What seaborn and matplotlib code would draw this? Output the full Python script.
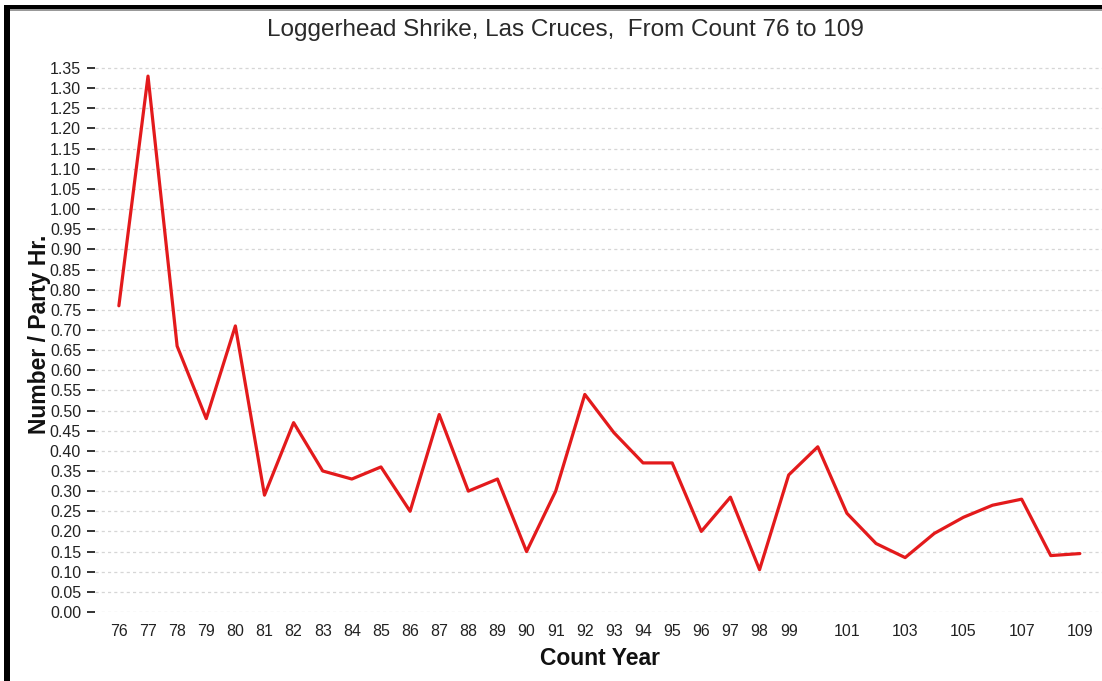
import matplotlib
matplotlib.use("Agg")
import matplotlib.pyplot as plt
from matplotlib.patches import Rectangle
import seaborn as sns
import pandas as pd

years = list(range(76, 110))
values = [0.76, 1.33, 0.66, 0.48, 0.71, 0.29, 0.47, 0.35, 0.33, 0.36,
          0.25, 0.49, 0.30, 0.33, 0.15, 0.30, 0.54, 0.445, 0.37, 0.37,
          0.20, 0.285, 0.105, 0.34, 0.41, 0.245, 0.17, 0.135, 0.195, 0.235,
          0.265, 0.28, 0.14, 0.145]
xtick_years = list(range(76, 100)) + [101, 103, 105, 107, 109]
ytick_values = [i * 0.05 for i in range(28)]

title = "Loggerhead Shrike, Las Cruces,  From Count 76 to 109"
xlabel = "Count Year"
ylabel = "Number / Party Hr."

sns.set_style("white")
plt.rcParams['font.family'] = ['Liberation Sans', 'DejaVu Sans']

W, H = 1102, 681
fig = plt.figure(figsize=(W / 100, H / 100), dpi=100)
fig.patch.set_facecolor("white")

# axes placement in pixels
left_px, right_px, top_px, bottom_px = 95, 1102, 62, 612
ax = fig.add_axes([left_px / W, (H - bottom_px) / H,
                   (right_px - left_px) / W, (bottom_px - top_px) / H])

df = pd.DataFrame({"year": years, "value": values})
sns.lineplot(data=df, x="year", y="value", ax=ax, color="#e31a1c",
             linewidth=2.3, legend=False)

ax.set_xlim(75.18, 109.76)
ax.set_ylim(0, 1.365)
ax.set_yticks(ytick_values)
ax.set_yticklabels([f"{v:.2f}" for v in ytick_values])
ax.set_xticks(xtick_years)
ax.set_xticklabels([str(y) for y in xtick_years])

for s in ax.spines.values():
    s.set_visible(False)

ax.tick_params(axis="y", which="both", left=True, length=6, width=1.4,
               color="#333333", pad=4, labelsize=11.5, labelcolor="#222222")
ax.tick_params(axis="x", which="both", bottom=False, length=0, pad=9,
               labelsize=11.5, labelcolor="#222222")

ax.yaxis.grid(True, color="#d6d6d6", linestyle=(0, (2.5, 2.5)), linewidth=0.9)
ax.xaxis.grid(False)
ax.set_axisbelow(True)

ax.set_xlabel(xlabel, fontsize=16.5, fontweight="bold", color="#111111")
ax.set_ylabel(ylabel, fontsize=16.5, fontweight="bold", color="#111111")
ax.xaxis.set_label_coords((600 - left_px) / (right_px - left_px),
                          -(647 - bottom_px) / (bottom_px - top_px))
ax.yaxis.set_label_coords(-(95 - 51) / (right_px - left_px),
                          (bottom_px - 334) / (bottom_px - top_px))

fig.text(565 / W, 1 - 30 / H, title, ha="center", va="center",
         fontsize=17.5, color="#2a2a2a")

# frame decoration (thick black border top and left)
fig.add_artist(Rectangle((4 / W, 1 - 9.5 / H), 1 - 4 / W, 5 / H,
                         transform=fig.transFigure, facecolor="black",
                         edgecolor="none"))
fig.add_artist(Rectangle((4 / W, 0), 6 / W, 1 - 5 / H,
                         transform=fig.transFigure, facecolor="black",
                         edgecolor="none"))
fig.add_artist(Rectangle((10 / W, 1 - 10.5 / H), 1 - 10 / W, 1 / H,
                         transform=fig.transFigure, facecolor="#999999",
                         edgecolor="none"))

fig.savefig("out.png", dpi=100)
